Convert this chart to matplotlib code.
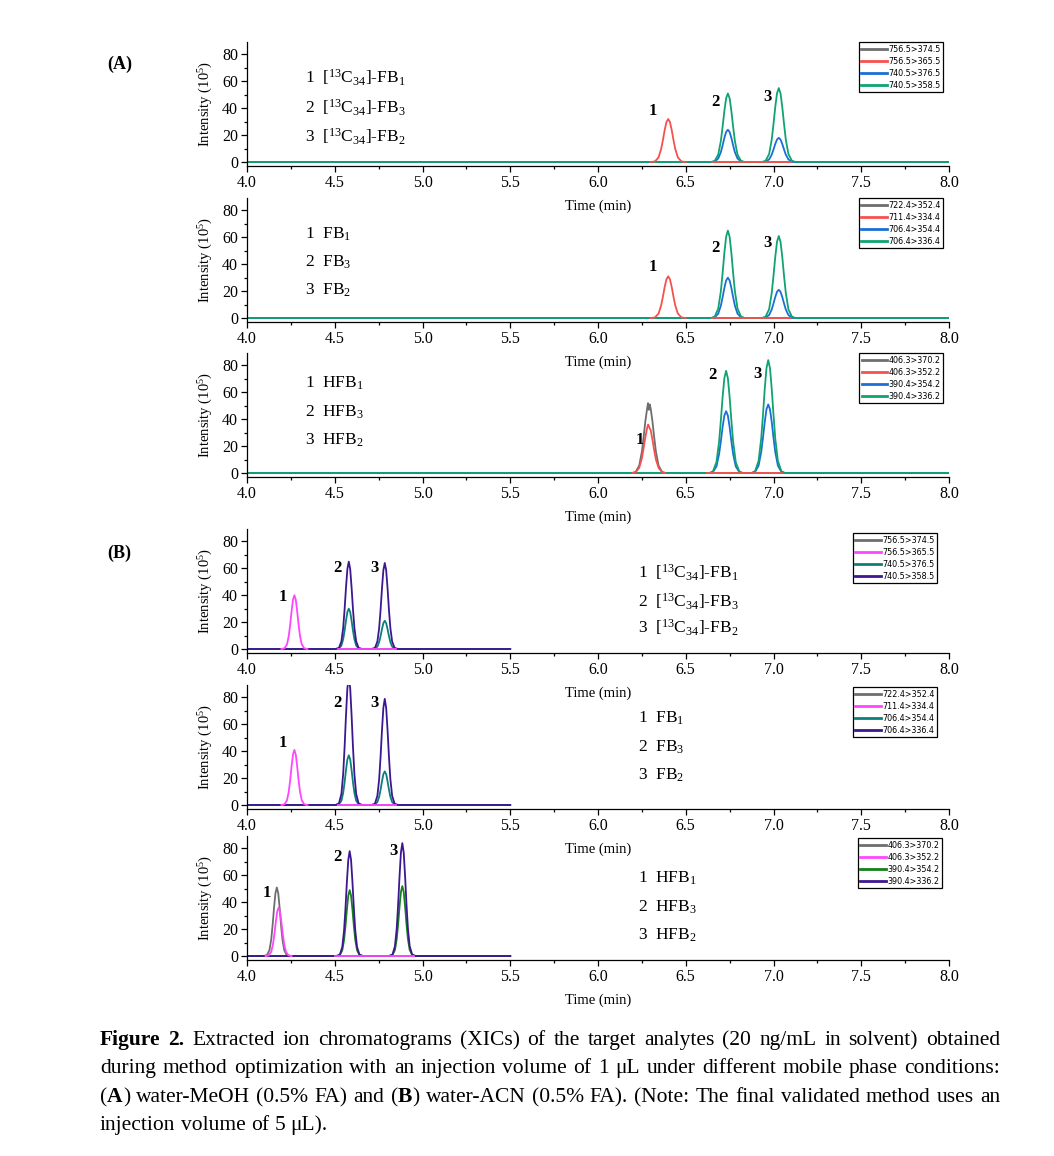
import matplotlib
matplotlib.use("Agg")
import matplotlib.pyplot as plt
from matplotlib.ticker import MultipleLocator, FormatStrFormatter

plt.rcParams["font.family"] = ["Liberation Serif", "DejaVu Serif"]
plt.rcParams["mathtext.fontset"] = "custom"
plt.rcParams["mathtext.rm"] = "Liberation Serif"
plt.rcParams["mathtext.it"] = "Liberation Serif:italic"
plt.rcParams["mathtext.bf"] = "Liberation Serif:bold"

# ---------------- data (time in min, intensity in 10^5) ----------------
# time grids of the peaks, (A) water-MeOH
t_a_p1 = [6.325, 6.345, 6.36, 6.37, 6.38, 6.39, 6.40, 6.41, 6.42, 6.43, 6.44, 6.455, 6.475]
t_a_p2 = [6.665, 6.685, 6.70, 6.71, 6.72, 6.73, 6.74, 6.75, 6.76, 6.77, 6.78, 6.795, 6.815]
t_a_p3 = [6.955, 6.975, 6.99, 7.00, 7.01, 7.02, 7.03, 7.04, 7.05, 7.06, 7.07, 7.085, 7.105]
t_a3_p1 = [6.215, 6.235, 6.25, 6.26, 6.27, 6.28, 6.285, 6.29, 6.295, 6.30, 6.31, 6.32, 6.33, 6.345, 6.365]
t_a3_p2 = [6.655, 6.675, 6.69, 6.70, 6.71, 6.72, 6.73, 6.74, 6.75, 6.76, 6.77, 6.785, 6.805]
t_a3_p3 = [6.895, 6.915, 6.93, 6.94, 6.95, 6.96, 6.97, 6.98, 6.99, 7.00, 7.01, 7.025, 7.045]
# time grids of the peaks, (B) water-ACN
t_b_p1 = [4.214, 4.228, 4.238, 4.246, 4.254, 4.262, 4.27, 4.278, 4.286, 4.294, 4.302, 4.312, 4.326]
t_b_p2 = [4.524, 4.538, 4.548, 4.556, 4.564, 4.572, 4.58, 4.588, 4.596, 4.604, 4.612, 4.622, 4.636]
t_b_p3 = [4.729, 4.743, 4.753, 4.761, 4.769, 4.777, 4.785, 4.793, 4.801, 4.809, 4.817, 4.827, 4.841]
t_b3_p1g = [4.114, 4.128, 4.138, 4.146, 4.154, 4.162, 4.17, 4.178, 4.186, 4.194, 4.202, 4.212, 4.226]
t_b3_p1m = [4.124, 4.138, 4.148, 4.156, 4.164, 4.172, 4.18, 4.188, 4.196, 4.204, 4.212, 4.222, 4.236]
t_b3_p2 = [4.529, 4.543, 4.553, 4.561, 4.569, 4.577, 4.585, 4.593, 4.601, 4.609, 4.617, 4.627, 4.641]
t_b3_p3 = [4.829, 4.843, 4.853, 4.861, 4.869, 4.877, 4.885, 4.893, 4.901, 4.909, 4.917, 4.927, 4.941]

a_range = [4.0, 8.0]
b_range = [4.0, 5.5]
a_red_win = [6.30, 6.50]
a_red_base = [6.65, 7.10]
a3_red_win = [6.20, 6.38]
a3_red_base = [6.62, 7.05]
b_mag_win = [4.20, 4.34]
b_mag_base = [4.52, 4.85]
b3_mag_win = [4.11, 4.25]
b3_mag_base = [4.50, 4.95]

# A1  [13C34]-FBs
a1_red_p1 = [0.5, 3.4, 9.8, 16.4, 23.8, 29.7, 32, 29.7, 23.8, 16.4, 9.8, 3.4, 0.5]
a1_blue_p2 = [0.4, 2.6, 7.3, 12.3, 17.9, 22.3, 24, 22.3, 17.9, 12.3, 7.3, 2.6, 0.4]
a1_blue_p3 = [0.3, 1.9, 5.5, 9.3, 13.4, 16.7, 18, 16.7, 13.4, 9.3, 5.5, 1.9, 0.3]
a1_green_p2 = [0.8, 5.5, 15.6, 26.2, 37.9, 47.4, 51, 47.4, 37.9, 26.2, 15.6, 5.5, 0.8]
a1_green_p3 = [0.9, 5.9, 16.8, 28.3, 40.9, 51.1, 55, 51.1, 40.9, 28.3, 16.8, 5.9, 0.9]
# A2  FBs
a2_red_p1 = [0.5, 3.3, 9.5, 15.9, 23.1, 28.8, 31, 28.8, 23.1, 15.9, 9.5, 3.3, 0.5]
a2_blue_p2 = [0.5, 3.2, 9.2, 15.4, 22.3, 27.9, 30, 27.9, 22.3, 15.4, 9.2, 3.2, 0.5]
a2_blue_p3 = [0.3, 2.2, 6.4, 10.8, 15.6, 19.5, 21, 19.5, 15.6, 10.8, 6.4, 2.2, 0.3]
a2_green_p2 = [1.0, 7.0, 19.9, 33.4, 48.4, 60.4, 65, 60.4, 48.4, 33.4, 19.9, 7.0, 1.0]
a2_green_p3 = [1.0, 6.5, 18.7, 31.4, 45.4, 56.7, 61, 56.7, 45.4, 31.4, 18.7, 6.5, 1.0]
# A3  HFBs
a3_grey_p1 = [0.8, 5.6, 15.9, 26.7, 38.7, 48, 52, 47, 51, 48, 38.7, 26.7, 15.9, 5.6, 0.8]
a3_red_p1 = [0.6, 3.9, 11.0, 18.5, 26.8, 33.4, 36, 35, 33, 32, 25, 17, 10, 3.9, 0.6]
a3_blue_p2 = [0.7, 4.9, 14.1, 23.6, 34.2, 42.7, 46, 42.7, 34.2, 23.6, 14.1, 4.9, 0.7]
a3_blue_p3 = [0.8, 5.5, 15.6, 26.2, 37.9, 47.4, 51, 47.4, 37.9, 26.2, 15.6, 5.5, 0.8]
a3_green_p2 = [1.2, 8.1, 23.3, 39.1, 56.5, 70.6, 76, 70.6, 56.5, 39.1, 23.3, 8.1, 1.2]
a3_green_p3 = [1.3, 9.0, 25.7, 43.2, 62.5, 78.0, 84, 78.0, 62.5, 43.2, 25.7, 9.0, 1.3]
# B1  [13C34]-FBs
b1_mag_p1 = [0.5, 3.5, 9.7, 18.0, 28.0, 36.6, 40, 36.6, 28.0, 18.0, 9.7, 3.5, 0.5]
b1_teal_p2 = [0.4, 2.6, 7.3, 13.5, 21.0, 27.5, 30, 27.5, 21.0, 13.5, 7.3, 2.6, 0.4]
b1_teal_p3 = [0.3, 1.8, 5.1, 9.5, 14.7, 19.2, 21, 19.2, 14.7, 9.5, 5.1, 1.8, 0.3]
b1_purple_p2 = [0.8, 5.7, 15.7, 29.3, 45.6, 59.5, 65, 59.5, 45.6, 29.3, 15.7, 5.7, 0.8]
b1_purple_p3 = [0.8, 5.6, 15.5, 28.8, 44.9, 58.6, 64, 58.6, 44.9, 28.8, 15.5, 5.6, 0.8]
# B2  FBs
b2_mag_p1 = [0.5, 3.6, 9.9, 18.5, 28.7, 37.5, 41, 37.5, 28.7, 18.5, 9.9, 3.6, 0.5]
b2_teal_p2 = [0.5, 3.2, 9.0, 16.7, 25.9, 33.9, 37, 33.9, 25.9, 16.7, 9.0, 3.2, 0.5]
b2_teal_p3 = [0.3, 2.2, 6.1, 11.3, 17.5, 22.9, 25, 22.9, 17.5, 11.3, 6.1, 2.2, 0.3]
b2_purple_p2 = [1.2, 8.3, 23.0, 42.8, 66.6, 86.9, 95, 86.9, 66.6, 42.8, 23.0, 8.3, 1.2]
b2_purple_p3 = [1.0, 6.9, 19.1, 35.6, 55.4, 72.3, 79, 72.3, 55.4, 35.6, 19.1, 6.9, 1.0]
# B3  HFBs
b3_grey_p1 = [0.7, 4.4, 12.3, 23.0, 35.8, 46.7, 51, 46.7, 35.8, 23.0, 12.3, 4.4, 0.7]
b3_mag_p1 = [0.5, 3.1, 8.7, 16.2, 25.2, 32.9, 36, 32.9, 25.2, 16.2, 8.7, 3.1, 0.5]
b3_green_p2 = [0.6, 4.3, 11.9, 22.1, 34.3, 44.8, 49, 44.8, 34.3, 22.1, 11.9, 4.3, 0.6]
b3_green_p3 = [0.7, 4.5, 12.6, 23.4, 36.5, 47.6, 52, 47.6, 36.5, 23.4, 12.6, 4.5, 0.7]
b3_purple_p2 = [1.0, 6.8, 18.9, 35.1, 54.7, 71.4, 78, 71.4, 54.7, 35.1, 18.9, 6.8, 1.0]
b3_purple_p3 = [1.1, 7.3, 20.3, 37.8, 58.9, 76.9, 84, 76.9, 58.9, 37.8, 20.3, 7.3, 1.1]

mrm_a1 = ["756.5>374.5", "756.5>365.5", "740.5>376.5", "740.5>358.5"]
mrm_a2 = ["722.4>352.4", "711.4>334.4", "706.4>354.4", "706.4>336.4"]
mrm_a3 = ["406.3>370.2", "406.3>352.2", "390.4>354.2", "390.4>336.2"]

names_13c = [r"1  [$^{13}$C$_{34}$]-FB$_1$", r"2  [$^{13}$C$_{34}$]-FB$_3$", r"3  [$^{13}$C$_{34}$]-FB$_2$"]
names_fb = [r"1  FB$_1$", r"2  FB$_3$", r"3  FB$_2$"]
names_hfb = [r"1  HFB$_1$", r"2  HFB$_3$", r"3  HFB$_2$"]

cols_a = ["#6e6e6e", "#f5514d", "#1a6fd6", "#0fa370"]
cols_b = ["#6e6e6e", "#ff45ff", "#0a8078", "#3d1791"]
cols_b3 = ["#6e6e6e", "#ff45ff", "#13801a", "#3d1791"]

PAD = 0.02  # peak grids fall back to the zero baseline this far out


def trace(rng, *peaks):
    # zero baseline from rng[0] to rng[1] with the peaks in between
    t = [rng[0]]
    y = [0]
    for tp, yp in peaks:
        t += [tp[0] - PAD] + tp + [tp[-1] + PAD]
        y += [0] + yp + [0]
    return t + [rng[1]], y + [0]


# ---------------- figure ----------------
W, H = 1054, 1156
fig = plt.figure(figsize=(W / 100, H / 100), dpi=100)

PX_PER_UNIT = 1.344
YMIN, YMAX = -3, 89


def make_axes(y0):
    bottom = 1 - (y0 - YMIN * PX_PER_UNIT) / H
    height = (YMAX - YMIN) * PX_PER_UNIT / H
    ax = fig.add_axes([247 / W, bottom, 702 / W, height])
    ax.set_facecolor("none")
    ax.set_xlim(4.0, 8.0)
    ax.set_ylim(YMIN, YMAX)
    for s in ["top", "right"]:
        ax.spines[s].set_visible(False)
    for s in ["left", "bottom"]:
        ax.spines[s].set_linewidth(0.9)
    ax.xaxis.set_major_locator(MultipleLocator(0.5))
    ax.xaxis.set_minor_locator(MultipleLocator(0.25))
    ax.xaxis.set_major_formatter(FormatStrFormatter("%.1f"))
    ax.yaxis.set_major_locator(MultipleLocator(20))
    ax.yaxis.set_minor_locator(MultipleLocator(10))
    ax.yaxis.set_major_formatter(FormatStrFormatter("%d"))
    ax.tick_params(which="major", direction="out", length=4.5, width=0.9, labelsize=11.5, pad=2)
    ax.tick_params(which="minor", direction="out", length=2.5, width=0.9)
    ax.set_xlabel("Time (min)", fontsize=10.5, labelpad=6)
    ax.set_ylabel(r"Intensity (10$^5$)", fontsize=10.5, labelpad=5)
    return ax


def draw_panel(y0, traces, colors, labels, leg_anchor, names, name_xy, peak_labels):
    ax = make_axes(y0)
    handles = []
    for i, segs in enumerate(traces):
        z = 4 if i == 1 else 2 + i * 0.1
        h = None
        for t, y in segs:
            h, = ax.plot(t, y, color=colors[i], lw=1.3, zorder=z, solid_joinstyle="round")
        handles.append(h)
    leg = ax.legend(handles, labels, loc="upper right", bbox_to_anchor=leg_anchor,
                    borderaxespad=0, prop={"family": "DejaVu Sans", "size": 5.8},
                    frameon=True, fancybox=False, edgecolor="black", framealpha=1,
                    handlelength=3.2, handletextpad=0.15, labelspacing=0.38, borderpad=0.3)
    leg.get_frame().set_linewidth(0.9)
    for lh in leg.get_lines():
        lh.set_linewidth(2.0)
    x, ys = name_xy
    for txt, yy in zip(names, ys):
        ax.text(x, yy, txt, fontsize=12.5, ha="left", va="center")
    for txt, px, py in peak_labels:
        ax.text(px, py, txt, fontsize=12, fontweight="bold", ha="center", va="center")
    return ax


# (A) water-MeOH
draw_panel(162,
           [[trace(a_range)],
            [trace(a_red_win, (t_a_p1, a1_red_p1)), trace(a_red_base)],
            [trace(a_range, (t_a_p2, a1_blue_p2), (t_a_p3, a1_blue_p3))],
            [trace(a_range, (t_a_p2, a1_green_p2), (t_a_p3, a1_green_p3))]],
           cols_a, mrm_a1, (0.9915, 1.0), names_13c, (4.33, [62.5, 40.5, 19]),
           [("1", 6.313, 38), ("2", 6.672, 45), ("3", 6.963, 48)])
draw_panel(318,
           [[trace(a_range)],
            [trace(a_red_win, (t_a_p1, a2_red_p1)), trace(a_red_base)],
            [trace(a_range, (t_a_p2, a2_blue_p2), (t_a_p3, a2_blue_p3))],
            [trace(a_range, (t_a_p2, a2_green_p2), (t_a_p3, a2_green_p3))]],
           cols_a, mrm_a2, (0.9915, 1.0), names_fb, (4.33, [62.5, 41.5, 20.5]),
           [("1", 6.313, 38), ("2", 6.672, 52), ("3", 6.963, 56)])
draw_panel(473,
           [[trace(a_range, (t_a3_p1, a3_grey_p1))],
            [trace(a3_red_win, (t_a3_p1, a3_red_p1)), trace(a3_red_base)],
            [trace(a_range, (t_a3_p2, a3_blue_p2), (t_a3_p3, a3_blue_p3))],
            [trace(a_range, (t_a3_p2, a3_green_p2), (t_a3_p3, a3_green_p3))]],
           cols_a, mrm_a3, (0.9915, 1.0), names_hfb, (4.33, [67, 45.5, 24]),
           [("1", 6.239, 24.5), ("2", 6.65, 73), ("3", 6.906, 74)])

# (B) water-ACN
draw_panel(649,
           [[trace(b_range)],
            [trace(b_mag_win, (t_b_p1, b1_mag_p1)), trace(b_mag_base)],
            [trace(b_range, (t_b_p2, b1_teal_p2), (t_b_p3, b1_teal_p3))],
            [trace(b_range, (t_b_p2, b1_purple_p2), (t_b_p3, b1_purple_p3))]],
           cols_b, mrm_a1, (0.983, 0.97), names_13c, (6.23, [56.5, 35, 15.6]),
           [("1", 4.205, 39), ("2", 4.513, 60), ("3", 4.724, 60)])
draw_panel(805,
           [[trace(b_range)],
            [trace(b_mag_win, (t_b_p1, b2_mag_p1)), trace(b_mag_base)],
            [trace(b_range, (t_b_p2, b2_teal_p2), (t_b_p3, b2_teal_p3))],
            [trace(b_range, (t_b_p2, b2_purple_p2), (t_b_p3, b2_purple_p3))]],
           cols_b, mrm_a2, (0.983, 0.985), names_fb, (6.23, [64.7, 43, 22]),
           [("1", 4.205, 46), ("2", 4.513, 76), ("3", 4.724, 76)])
draw_panel(956,
           [[trace(b_range, (t_b3_p1g, b3_grey_p1))],
            [trace(b3_mag_win, (t_b3_p1m, b3_mag_p1)), trace(b3_mag_base)],
            [trace(b_range, (t_b3_p2, b3_green_p2), (t_b3_p3, b3_green_p3))],
            [trace(b_range, (t_b3_p2, b3_purple_p2), (t_b3_p3, b3_purple_p3))]],
           cols_b3, mrm_a3, (0.99, 0.985), names_hfb, (6.23, [58, 36.5, 15.6]),
           [("1", 4.114, 47), ("2", 4.513, 74), ("3", 4.836, 78)])

fig.text(107 / W, 1 - 64 / H, "(A)", fontsize=13, fontweight="bold", ha="left", va="center")
fig.text(107 / W, 1 - 553 / H, "(B)", fontsize=13, fontweight="bold", ha="left", va="center")

# ---------------- caption ----------------
caption = [
    "**Figure 2.** Extracted ion chromatograms (XICs) of the target analytes (20 ng/mL in solvent) obtained",
    "during method optimization with an injection volume of 1 \u03bcL under different mobile phase conditions:",
    "(**A**) water-MeOH (0.5% FA) and (**B**) water-ACN (0.5% FA). (Note: The final validated method uses an",
    "injection volume of 5 \u03bcL).",
]
cap_baseline = [1045, 1073, 1102, 1130]
renderer = fig.canvas.get_renderer()


def put_line(y, line, x0=100, x1=1000, justify=True, size=15.5):
    bold = False
    words = []
    for w in line.split(" "):
        frags = []
        parts = w.split("**")
        for i, p in enumerate(parts):
            if i > 0:
                bold = not bold
            if p:
                frags.append((p, bold))
        words.append(frags)
    items = []
    total = 0
    for frags in words:
        objs = []
        ww = 0
        for p, b in frags:
            t = fig.text(0, 1 - y / H, p, fontsize=size, fontweight="bold" if b else "normal",
                         ha="left", va="baseline")
            w = t.get_window_extent(renderer).width
            objs.append((t, ww))
            ww += w
        items.append((objs, ww))
        total += ww
    if justify and len(items) > 1:
        gap = (x1 - x0 - total) / (len(items) - 1)
    else:
        gap = size * 100 / 72 * 0.25
    x = x0
    for objs, ww in items:
        for t, off in objs:
            t.set_x((x + off) / W)
        x += ww + gap


for i, (line, yy) in enumerate(zip(caption, cap_baseline)):
    put_line(yy, line, justify=(i < 3))

fig.savefig("out.png", dpi=100)
